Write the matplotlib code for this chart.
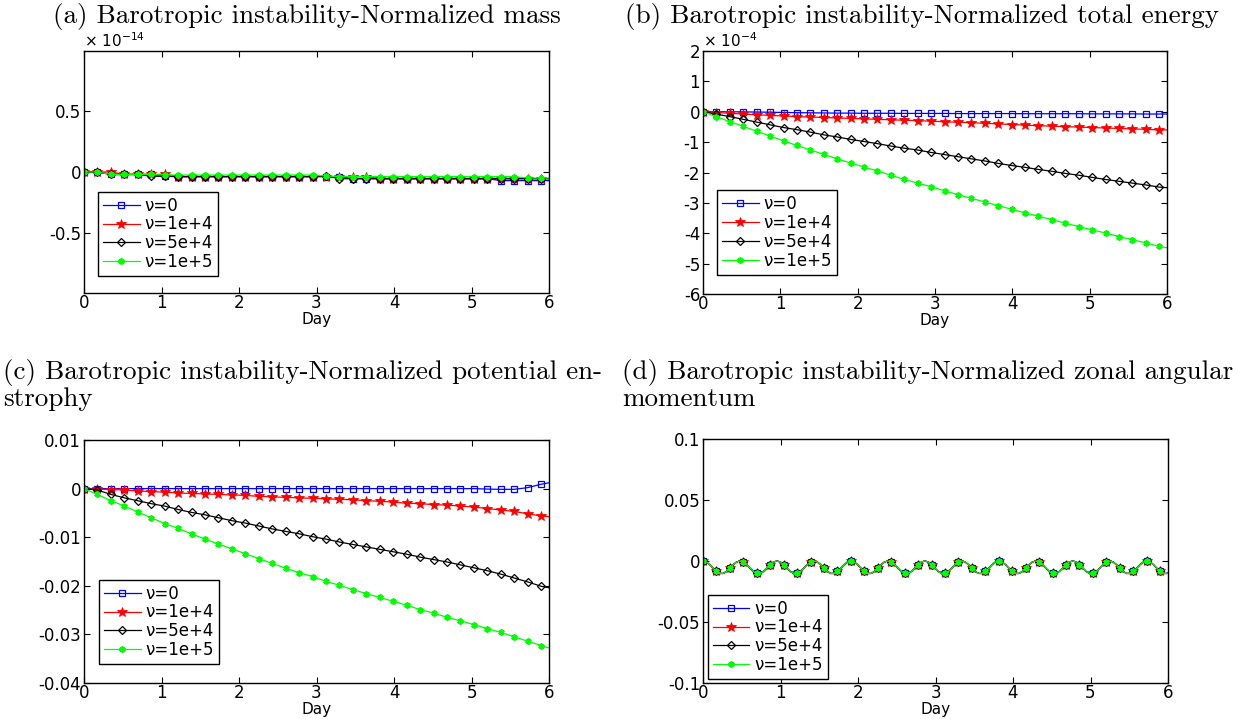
import numpy as np
import matplotlib
matplotlib.use("Agg")
import matplotlib.pyplot as plt

# ---- time axes (days) ----
DT_MARK = 0.1735          # output interval of the diagnostics
DT_FINE = DT_MARK / 4     # finer output used for the angular momentum curve
days = np.append(np.arange(35) * DT_MARK, 6.0)
days_fine = np.append(np.arange(139) * DT_FINE, 6.0)

labels = ["\u03bd=0", "\u03bd=1e+4", "\u03bd=5e+4", "\u03bd=1e+5"]

# ---- (a) normalized mass, units of 1e-14 ----
mass_nu0 = [0, 0, -0.02, -0.02, -0.02, -0.02, -0.035, -0.038, -0.038, -0.038, -0.038, -0.038,
            -0.038, -0.038, -0.038, -0.038, -0.038, -0.038, -0.038, -0.038, -0.055, -0.055,
            -0.055, -0.055, -0.055, -0.055, -0.055, -0.055, -0.055, -0.055, -0.055, -0.071,
            -0.071, -0.071, -0.071, -0.071]
mass_nu1e4 = [0, 0, 0, -0.02, -0.02, -0.02, -0.02, -0.038, -0.038, -0.038, -0.038, -0.038,
              -0.038, -0.038, -0.038, -0.038, -0.038, -0.038, -0.038, -0.038, -0.038, -0.038,
              -0.055, -0.055, -0.055, -0.055, -0.055, -0.055, -0.055, -0.055, -0.055, -0.055,
              -0.055, -0.055, -0.055, -0.055]
mass_nu5e4 = [0, 0, -0.02, -0.02, -0.02, -0.035, -0.035, -0.038, -0.038, -0.038, -0.038, -0.038,
              -0.038, -0.038, -0.038, -0.038, -0.038, -0.038, -0.033, -0.055, -0.055, -0.055,
              -0.055, -0.055, -0.055, -0.055, -0.055, -0.055, -0.055, -0.055, -0.055, -0.055,
              -0.055, -0.055, -0.055, -0.055]
mass_nu1e5 = [0, 0, -0.02, -0.02, -0.02, -0.02, -0.025, -0.025, -0.025, -0.025, -0.025, -0.025,
              -0.025, -0.025, -0.025, -0.025, -0.025, -0.025, -0.033, -0.038, -0.038, -0.038,
              -0.038, -0.038, -0.038, -0.038, -0.038, -0.038, -0.038, -0.038, -0.038, -0.038,
              -0.038, -0.05, -0.05, -0.05]

# ---- (b) normalized total energy, units of 1e-4 ----
energy_nu0 = [0, 0, 0, -0.005, -0.01, -0.015, -0.025, -0.03, -0.035, -0.04, -0.045, -0.045,
              -0.05, -0.05, -0.05, -0.055, -0.055, -0.055, -0.055, -0.06, -0.06, -0.06, -0.06,
              -0.06, -0.065, -0.065, -0.065, -0.065, -0.065, -0.07, -0.07, -0.07, -0.07,
              -0.075, -0.075, -0.075]
energy_nu1e4 = [0, -0.025, -0.05, -0.075, -0.10, -0.12, -0.14, -0.16, -0.175, -0.19, -0.205,
                -0.22, -0.235, -0.25, -0.265, -0.28, -0.295, -0.31, -0.33, -0.345, -0.36,
                -0.38, -0.40, -0.42, -0.44, -0.46, -0.475, -0.49, -0.505, -0.52, -0.535,
                -0.55, -0.565, -0.58, -0.595, -0.60]
energy_nu5e4 = [0, -0.08, -0.16, -0.25, -0.34, -0.43, -0.52, -0.59, -0.67, -0.76, -0.83, -0.91,
                -0.98, -1.05, -1.13, -1.20, -1.26, -1.34, -1.41, -1.48, -1.55, -1.62, -1.70,
                -1.77, -1.83, -1.90, -1.96, -2.03, -2.09, -2.16, -2.23, -2.29, -2.35, -2.41,
                -2.48, -2.50]
energy_nu1e5 = [0, -0.16, -0.33, -0.48, -0.64, -0.80, -0.96, -1.11, -1.26, -1.40, -1.55, -1.69,
                -1.82, -1.95, -2.09, -2.23, -2.35, -2.47, -2.60, -2.73, -2.85, -2.97, -3.09,
                -3.21, -3.33, -3.44, -3.55, -3.67, -3.78, -3.89, -3.99, -4.11, -4.21, -4.32,
                -4.43, -4.48]

# ---- (c) normalized potential enstrophy ----
enstrophy_nu0 = [0, 0, 0, 0, 0, 0, 0, 0, 0, 0, 0, 0, 0, 0, 0, 0, 0, 0, 0, 0, 0, 0, 0, 0, 0, 0,
                 0, 0, 0, 0, -0.0001, -0.00015, -0.00015, 0.0002, 0.0009, 0.0012]
enstrophy_nu1e4 = [0, -0.0001, -0.0002, -0.0003, -0.0005, -0.0006, -0.00075, -0.0009, -0.001,
                   -0.0011, -0.0012, -0.0013, -0.0014, -0.0016, -0.0017, -0.0018, -0.0019,
                   -0.002, -0.0021, -0.0022, -0.0023, -0.0025, -0.0026, -0.0028, -0.003,
                   -0.0031, -0.0033, -0.0034, -0.0036, -0.0038, -0.0041, -0.0044, -0.0047,
                   -0.0052, -0.0056, -0.0058]
enstrophy_nu5e4 = [0, -0.0003, -0.0012, -0.0019, -0.0025, -0.0031, -0.0036, -0.0043, -0.0049,
                   -0.0054, -0.006, -0.0066, -0.0071, -0.0077, -0.0083, -0.0088, -0.0093,
                   -0.0099, -0.0104, -0.011, -0.0115, -0.012, -0.0125, -0.013, -0.0135,
                   -0.0141, -0.0146, -0.0151, -0.0157, -0.0163, -0.0169, -0.0176, -0.0184,
                   -0.0192, -0.0201, -0.0204]
enstrophy_nu1e5 = [0, -0.0012, -0.0025, -0.0036, -0.0048, -0.006, -0.0072, -0.0082, -0.0093,
                   -0.0104, -0.0114, -0.0124, -0.0134, -0.0144, -0.0154, -0.0164, -0.0173,
                   -0.0181, -0.0191, -0.0199, -0.0208, -0.0216, -0.0224, -0.0232, -0.024,
                   -0.0249, -0.0256, -0.0265, -0.0272, -0.028, -0.0288, -0.0296, -0.0305,
                   -0.0314, -0.0323, -0.0328]

# ---- (d) normalized zonal angular momentum (identical for all four runs) ----
momentum = [
    0, -0.0008, -0.003, -0.0059, -0.0086, -0.0102, -0.0102, -0.0086, -0.0059, -0.003, -0.0008,
    0, -0.0008, -0.003, -0.0059, -0.0086, -0.0102, -0.0102, -0.0086, -0.0059, -0.003, -0.0008,
    0, -0.0008, -0.003, -0.0059, -0.0086, -0.0102, -0.0102, -0.0086, -0.0059, -0.003, -0.0008,
    0, -0.0008, -0.003, -0.0059, -0.0086, -0.0102, -0.0102, -0.0086, -0.0059, -0.003, -0.0008,
    0, -0.0008, -0.003, -0.0059, -0.0086, -0.0102, -0.0102, -0.0086, -0.0059, -0.003, -0.0008,
    0, -0.0008, -0.003, -0.0059, -0.0086, -0.0102, -0.0102, -0.0086, -0.0059, -0.003, -0.0008,
    0, -0.0008, -0.003, -0.0059, -0.0086, -0.0102, -0.0102, -0.0086, -0.0059, -0.003, -0.0008,
    0, -0.0008, -0.003, -0.0059, -0.0086, -0.0102, -0.0102, -0.0086, -0.0059, -0.003, -0.0008,
    0, -0.0008, -0.003, -0.0059, -0.0086, -0.0102, -0.0102, -0.0086, -0.0059, -0.003, -0.0008,
    0, -0.0008, -0.003, -0.0059, -0.0086, -0.0102, -0.0102, -0.0086, -0.0059, -0.003, -0.0008,
    0, -0.0008, -0.003, -0.0059, -0.0086, -0.0102, -0.0102, -0.0086, -0.0059, -0.003, -0.0008,
    0, -0.0008, -0.003, -0.0059, -0.0086, -0.0102, -0.0102, -0.0086, -0.0059, -0.003, -0.0008,
    0, -0.0008, -0.003, -0.0059, -0.0086, -0.0102, -0.0102, -0.0098,
]

x_ticks = [0, 1, 2, 3, 4, 5, 6]

# ---- styling ----
W, H = 1237, 719
plt.rcParams["font.family"] = ["DejaVu Sans"]
plt.rcParams["font.size"] = 12
LBL = 12

styles = [
    dict(color=(0, 0, 1), marker="s", markersize=3.8, markerfacecolor="none", markeredgewidth=0.9),
    dict(color=(1, 0, 0), marker="*", markersize=7, markerfacecolor=(1, 0, 0), markeredgewidth=0.6),
    dict(color="black", marker="D", markersize=3.8, markerfacecolor="none", markeredgewidth=0.9),
    dict(color=(0, 1, 0), marker=(6, 2, 0), markersize=4.5, markeredgewidth=1.3),
]

fig = plt.figure(figsize=(W / 100, H / 100), dpi=100)


def px_axes(left, top, right, bottom):
    return fig.add_axes([left / W, 1 - bottom / H, (right - left) / W, (bottom - top) / H])


def style_axes(ax, yticks, ylim):
    ax.set_xlim(0, 6)
    ax.set_ylim(*ylim)
    ax.set_xticks(x_ticks)
    ax.set_xticklabels([str(t) for t in x_ticks])
    ax.set_yticks(yticks)
    ax.set_yticklabels([f"{v:g}" for v in yticks])
    ax.tick_params(direction="in", top=True, right=True, length=4, width=0.8,
                   labelsize=LBL, pad=2)
    ax.tick_params(axis="x", pad=1)
    for sp in ax.spines.values():
        sp.set_linewidth(1.0)
    ax.set_xlabel("Day", fontsize=11, labelpad=0)


def add_legend(ax, x0, y0):
    ax.legend(labels, loc="lower left", bbox_to_anchor=(x0, y0), fontsize=LBL,
              frameon=True, fancybox=False, edgecolor="black", framealpha=1,
              handlelength=2.2, handletextpad=0.3, labelspacing=0.05,
              borderpad=0.3, borderaxespad=0.0)
    ax.get_legend().get_frame().set_linewidth(1.0)


def plot_series(ax, x, series, every):
    for ys, st in zip(series, styles):
        ax.plot(x, ys, linewidth=0.9, markevery=every, **st)


coarse_marks = list(range(35))

# (a)
ax_a = px_axes(84, 51, 549, 293)
plot_series(ax_a, days, [mass_nu0, mass_nu1e4, mass_nu5e4, mass_nu1e5], coarse_marks)
style_axes(ax_a, [-0.5, 0, 0.5], (-0.995, 0.995))
add_legend(ax_a, 0.03, 0.07)
ax_a.text(0, 1.003, r"$\times$ 10$^{-14}$", transform=ax_a.transAxes, fontsize=11,
          ha="left", va="bottom")

# (b)
ax_b = px_axes(703, 51, 1167, 294)
plot_series(ax_b, days, [energy_nu0, energy_nu1e4, energy_nu5e4, energy_nu1e5], coarse_marks)
style_axes(ax_b, [-6, -5, -4, -3, -2, -1, 0, 1, 2], (-6, 2))
add_legend(ax_b, 0.03, 0.08)
ax_b.text(0, 1.003, r"$\times$ 10$^{-4}$", transform=ax_b.transAxes, fontsize=11,
          ha="left", va="bottom")

# (c)
ax_c = px_axes(84, 440, 549, 683)
plot_series(ax_c, days, [enstrophy_nu0, enstrophy_nu1e4, enstrophy_nu5e4, enstrophy_nu1e5],
            coarse_marks)
style_axes(ax_c, [-0.04, -0.03, -0.02, -0.01, 0, 0.01], (-0.04, 0.01))
add_legend(ax_c, 0.032, 0.078)

# (d)
ax_d = px_axes(703, 439, 1168, 683)
plot_series(ax_d, days_fine, [momentum, momentum, momentum, momentum], slice(0, 139, 4))
style_axes(ax_d, [-0.1, -0.05, 0, 0.05, 0.1], (-0.1, 0.1))
add_legend(ax_d, 0.01, 0.016)

# panel captions
cap = dict(fontfamily="cmr10", fontsize=19.5)
fig.text(307 / W, 1 - 23 / H, "(a) Barotropic instability-Normalized mass",
         ha="center", va="baseline", **cap)
fig.text(922 / W, 1 - 23 / H, "(b) Barotropic instability-Normalized total energy",
         ha="center", va="baseline", **cap)
fig.text(3 / W, 1 - 379 / H, "(c) Barotropic instability-Normalized potential en-",
         ha="left", va="baseline", **cap)
fig.text(3 / W, 1 - 406 / H, "strophy", ha="left", va="baseline", **cap)
fig.text(622 / W, 1 - 379 / H, "(d) Barotropic instability-Normalized zonal angular",
         ha="left", va="baseline", **cap)
fig.text(622 / W, 1 - 406 / H, "momentum", ha="left", va="baseline", **cap)

fig.savefig("out.png", dpi=100)
